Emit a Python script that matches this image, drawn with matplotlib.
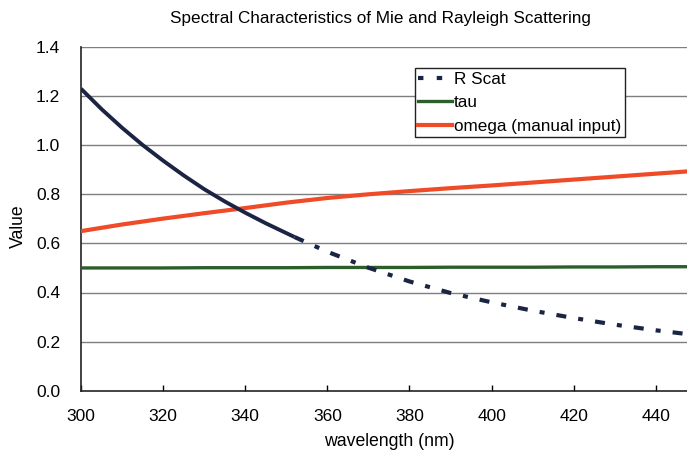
import matplotlib
matplotlib.use("Agg")
import matplotlib.pyplot as plt
from matplotlib.lines import Line2D

plt.rcParams['font.family'] = ['Liberation Sans', 'DejaVu Sans']

# Rayleigh scattering, solid part (nm, value)
wl_solid = [300, 305, 310, 315, 320, 325, 330, 335, 340, 345, 350, 352]
rscat_solid = [1.23, 1.147, 1.071, 1.001, 0.937, 0.877, 0.821, 0.771, 0.725, 0.682, 0.642, 0.626]

# Rayleigh scattering, dashed part
wl_dash = [352, 360, 370, 380, 390, 400, 410, 420, 430, 440, 450]
rscat_dash = [0.626, 0.566, 0.501, 0.445, 0.398, 0.360, 0.326, 0.296, 0.269, 0.246, 0.226]

wl = [300, 310, 320, 330, 340, 350, 360, 370, 380, 390, 400, 410, 420, 430, 440, 450]
tau = [0.50, 0.50, 0.50, 0.501, 0.501, 0.501, 0.502, 0.502, 0.502, 0.503, 0.503, 0.503, 0.504, 0.504, 0.505, 0.505]
omega = [0.65, 0.677, 0.701, 0.723, 0.744, 0.766, 0.785, 0.80, 0.813, 0.825, 0.836, 0.848, 0.86, 0.872, 0.884, 0.896]

x_ticks = [300, 320, 340, 360, 380, 400, 420, 440]
y_ticks = [0.0, 0.2, 0.4, 0.6, 0.8, 1.0, 1.2, 1.4]

navy = "#1c2444"
green = "#2c5e2c"
orange = "#f04b28"

fig = plt.figure(figsize=(6.87, 4.58), dpi=100)
ax = fig.add_axes([81 / 687, 1 - 390.7 / 458, 1 - 81 / 687, (390.7 - 47) / 458])

for y in y_ticks[1:]:
    ax.axhline(y, color="#7e7e7e", lw=1.0, zorder=1)

ax.plot(wl, tau, color=green, lw=2.4, zorder=3)
ax.plot(wl, omega, color=orange, lw=3.0, zorder=3, solid_joinstyle="round")
ax.plot(wl_solid, rscat_solid, color=navy, lw=2.8, zorder=4,
        solid_capstyle="butt", solid_joinstyle="round")
ax.plot(wl_dash, rscat_dash, color=navy, lw=3.0, zorder=4,
        dashes=(2.4, 2.9, 1.2, 2.9), dash_capstyle="butt")

ax.set_xlim(300, 447.6)
ax.set_ylim(0, 1.4)
ax.set_xticks(x_ticks)
ax.set_yticks(y_ticks)
ax.set_yticklabels([f"{v:.1f}" for v in y_ticks])
ax.tick_params(axis="x", direction="in", length=4, width=1, pad=13, labelsize=12.5)
ax.tick_params(axis="y", length=0, pad=15, labelsize=12.5)

for s in ["top", "right"]:
    ax.spines[s].set_visible(False)
for s in ["left", "bottom"]:
    ax.spines[s].set_linewidth(1.2)
    ax.spines[s].set_color("#222222")

handles = [
    Line2D([], [], color=navy, lw=3.0, dashes=(1.3, 3.2), dash_capstyle="butt"),
    Line2D([], [], color=green, lw=2.4),
    Line2D([], [], color=orange, lw=3.0),
]
labels = ["R Scat", "tau", "omega (manual input)"]
leg = ax.legend(handles, labels, loc="upper left", bbox_to_anchor=(0.551, 0.938),
                frameon=True, fancybox=False, edgecolor="#222222", framealpha=1,
                fontsize=12.3, handlelength=2.0, handletextpad=0.1,
                borderpad=0.2, labelspacing=0.5, borderaxespad=0)
leg.get_frame().set_linewidth(1.0)

fig.text(380 / 687, 1 - 19 / 458, "Spectral Characteristics of Mie and Rayleigh Scattering",
         ha="center", va="center", fontsize=12.3)
fig.text(389 / 687, 1 - 441 / 458, "wavelength (nm)", ha="center", va="center", fontsize=12.7)
fig.text(18 / 687, 1 - 226 / 458, "Value", ha="center", va="center", rotation=90, fontsize=12.7)

fig.savefig("out.png", dpi=100)
